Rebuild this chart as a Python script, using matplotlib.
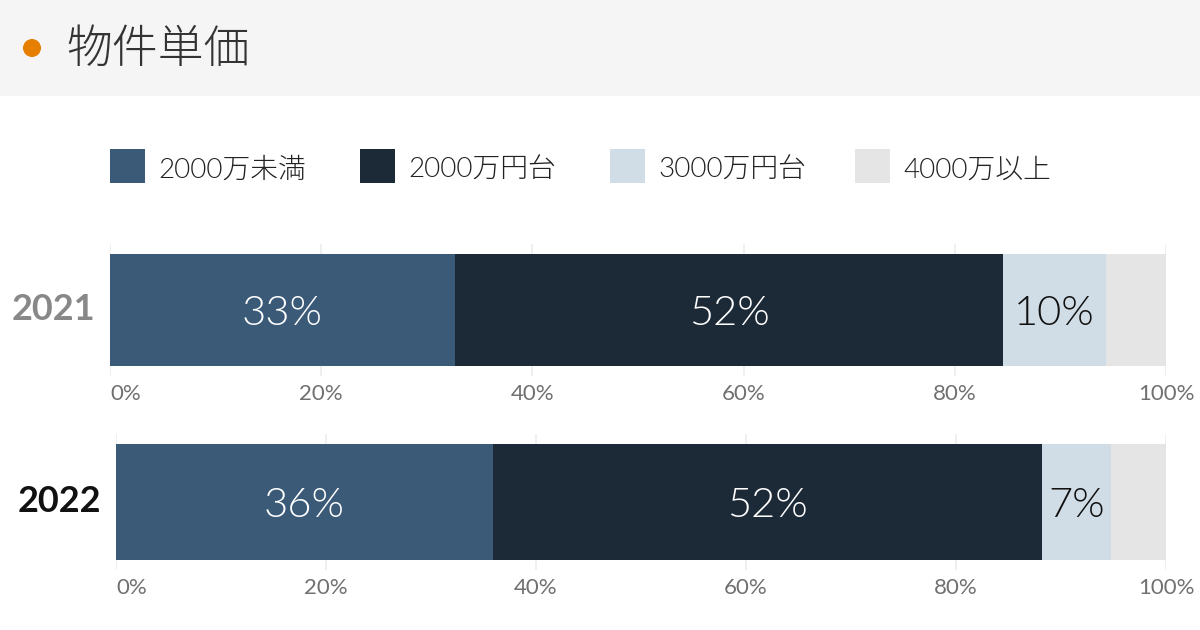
import matplotlib
matplotlib.use("Agg")
import matplotlib.pyplot as plt
from matplotlib.patches import Rectangle, Ellipse

plt.rcParams['font.family'] = ['Lato', 'Noto Sans CJK JP', 'DejaVu Sans']

# データ
title = "物件単価"
categories = ["2000万未満", "2000万円台", "3000万円台", "4000万以上"]
years = ["2021", "2022"]
values_2021 = [32.7, 51.9, 9.7, 5.7]
values_2022 = [35.9, 52.3, 6.6, 5.2]
labels_2021 = ["33%", "52%", "10%", ""]
labels_2022 = ["36%", "52%", "7%", ""]
tick_vals = [0, 20, 40, 60, 80, 100]
tick_labels = ["0%", "20%", "40%", "60%", "80%", "100%"]

colors = ["#3a5a78", "#1c2a38", "#d0dde7", "#e5e5e5"]
text_colors = ["white", "white", "#111111", "#111111"]
W = 300  # 細めのウェイト

fig = plt.figure(figsize=(12, 6.3), dpi=100)
fig.patch.set_facecolor("white")

# タイトル帯
fig.patches.append(Rectangle((0, 1 - 96 / 630), 1, 96 / 630, transform=fig.transFigure,
                             facecolor="#f5f5f5", edgecolor="none", zorder=0))
fig.patches.append(Ellipse((32 / 1200, 1 - 48 / 630), 18 / 1200, 18 / 630,
                           transform=fig.transFigure, facecolor="#e67e00", edgecolor="none"))
fig.text(66 / 1200, 1 - 50 / 630, title, fontsize=33, color="#333333",
         va="center", ha="left", family=['Noto Sans CJK JP'], fontweight=W)

# 凡例
legend_x = [110, 360, 610, 855]
for x, c, name in zip(legend_x, colors, categories):
    fig.patches.append(Rectangle((x / 1200, 1 - 183 / 630), 35 / 1200, 34 / 630,
                                 transform=fig.transFigure, facecolor=c, edgecolor="none"))
    fig.text((x + 48) / 1200, 1 - 170 / 630, name, fontsize=20, color="#222222",
             va="center", ha="left", fontweight=W)


def draw_bar(rect, vals, labels, year, ycolor, ylim):
    ax = fig.add_axes(rect)
    left = 0
    for v, c, lab, tc in zip(vals, colors, labels, text_colors):
        ax.barh(0, v, left=left, height=1, color=c, edgecolor="none", zorder=2)
        if lab:
            ax.text(left + v / 2, -0.03, lab, ha="center", va="center", fontsize=30,
                    color=tc, zorder=3, fontweight=W)
        left += v
    ax.set_xlim(0, 100)
    ax.set_ylim(-ylim, ylim)
    ax.set_xticks(tick_vals)
    ax.set_xticklabels(tick_labels)
    ax.get_xticklabels()[0].set_horizontalalignment("left")
    ax.set_yticks([])
    ax.grid(axis="x", color="#ececec", linewidth=1.2, zorder=0)
    for s in ax.spines.values():
        s.set_visible(False)
    ax.tick_params(axis="x", length=0, pad=6, labelsize=16, labelcolor="#707070")
    ax.text(-1.4, 0, year, transform=ax.transData, ha="right", va="center",
            fontsize=26, fontweight="bold", color=ycolor)
    return ax


draw_bar([110 / 1200, 1 - 376 / 630, 1056 / 1200, 132 / 630],
         values_2021, labels_2021, years[0], "#888888", 0.59)
draw_bar([116 / 1200, 1 - 570 / 630, 1050 / 1200, 136 / 630],
         values_2022, labels_2022, years[1], "#111111", 0.586)

fig.savefig("out.png", dpi=100)
